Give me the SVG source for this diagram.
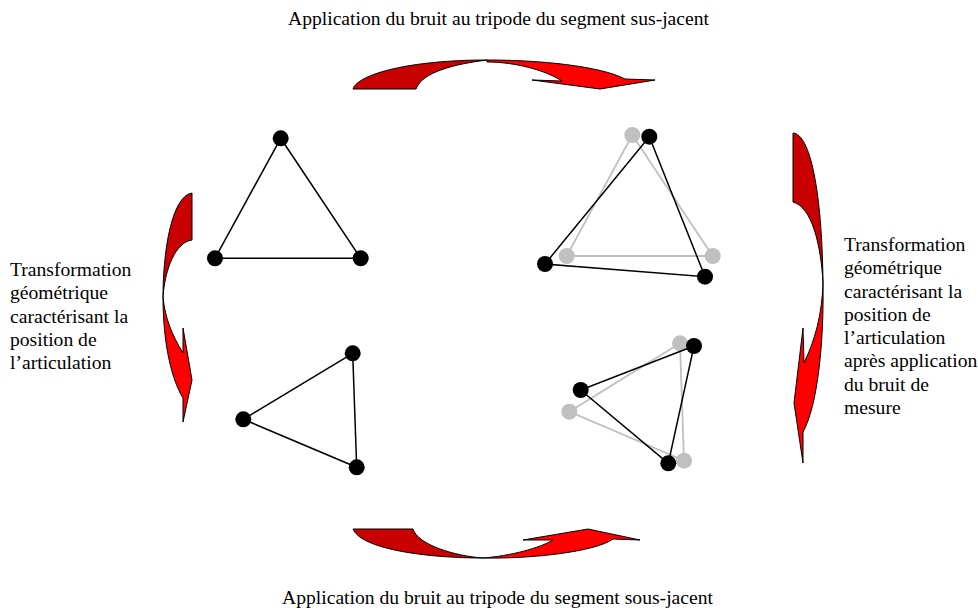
<svg xmlns="http://www.w3.org/2000/svg" width="978" height="613" viewBox="0 0 978 613">
<style>
.t{font-family:"Liberation Serif","Times New Roman",serif;font-size:18px;fill:#000}
.dk{fill:#C80000;stroke:#000;stroke-width:1;stroke-linejoin:miter}
.br{fill:#FF0000;stroke:#000;stroke-width:1;stroke-linejoin:miter}
.e{stroke:#000;stroke-width:1.5;fill:none}
.g{stroke:#C0C0C0;stroke-width:1.8;fill:none}
.n{fill:#000}
.ng{fill:#C0C0C0}
</style>
<rect width="978" height="613" fill="#fff"/>
<g id="connectors">
  <g id="arrow-top">
    <path class="dk" d="M353,89 C358,74 410,60 487,60 C455,64 422,72 416,89 Z"/>
    <path class="br" d="M487,60 C540,60 600,66 625,79 L655,80 L600,89 L532,80 L562,81 C545,70 515,62 487,62 Z"/>
  </g>
  <g id="arrow-right">
    <path class="dk" d="M793,133 C810,134 822,190 823,283 C821,245 812,207 793,202 Z"/>
    <path class="br" d="M823,283 C824,340 818,405 803,432 L803,463 L794,403 L803,328 L804,363 C815,340 822,315 823,283 Z"/>
  </g>
  <g id="arrow-bottom">
    <path class="dk" d="M353,529 L413,529 C418,545 455,556 483,558 C430,558 362,550 353,529 Z"/>
    <path class="br" d="M483,558 C530,559 595,552 613,539 L640,540 L588,529 L523,540 L553,540 C540,548 510,556 483,558 Z"/>
  </g>
  <g id="arrow-left">
    <path class="dk" d="M192,193 C172,196 163,250 163,297 C165,268 176,242 192,240 Z"/>
    <path class="br" d="M163,297 C163,345 172,380 183,398 L183,422 L192,380 L183,328 L183,353 C172,335 165,318 163,297 Z"/>
  </g>
</g>
<g id="tripod-top-left">
  <path class="e" d="M280.7,138.3 L215,258.3 L360.7,258.3 Z"/>
  <circle class="n" cx="280.7" cy="138.3" r="8"/>
  <circle class="n" cx="215" cy="258.3" r="8"/>
  <circle class="n" cx="360.7" cy="258.3" r="8"/>
</g>
<g id="tripod-top-right">
  <path class="g" d="M632.3,135 L566.7,256 L712.7,256 Z"/>
  <circle class="ng" cx="632.3" cy="135" r="8"/>
  <circle class="ng" cx="566.7" cy="256" r="8"/>
  <circle class="ng" cx="712.7" cy="256" r="8"/>
  <path class="e" d="M649.3,136.7 L545,264 L705,276.7 Z"/>
  <circle class="n" cx="649.3" cy="136.7" r="8"/>
  <circle class="n" cx="545" cy="264" r="8"/>
  <circle class="n" cx="705" cy="276.7" r="8"/>
</g>
<g id="tripod-bottom-left">
  <path class="e" d="M352.7,353.3 L243.3,419.3 L356.7,467.3 Z"/>
  <circle class="n" cx="352.7" cy="353.3" r="8"/>
  <circle class="n" cx="243.3" cy="419.3" r="8"/>
  <circle class="n" cx="356.7" cy="467.3" r="8"/>
</g>
<g id="tripod-bottom-right">
  <path class="g" d="M680,343.3 L569.3,411.7 L684,460.7 Z"/>
  <circle class="ng" cx="680" cy="343.3" r="8"/>
  <circle class="ng" cx="569.3" cy="411.7" r="8"/>
  <circle class="ng" cx="684" cy="460.7" r="8"/>
  <path class="e" d="M694,346 L580.7,390 L668.3,463.3 Z"/>
  <circle class="n" cx="694" cy="346" r="8"/>
  <circle class="n" cx="580.7" cy="390" r="8"/>
  <circle class="n" cx="668.3" cy="463.3" r="8"/>
</g>
<g id="label-top">
  <text class="t" x="288" y="25" textLength="421" lengthAdjust="spacingAndGlyphs">Application du bruit au tripode du segment sus-jacent</text>
</g>
<g id="label-bottom">
  <text class="t" x="282" y="604" textLength="431" lengthAdjust="spacingAndGlyphs">Application du bruit au tripode du segment sous-jacent</text>
</g>
<g id="label-left">
  <text class="t" transform="translate(10,0) scale(1.09,1)">
    <tspan x="0" y="276">Transformation</tspan>
    <tspan x="0" y="299.3">géométrique</tspan>
    <tspan x="0" y="322.6">caractérisant la</tspan>
    <tspan x="0" y="345.9">position de</tspan>
    <tspan x="0" y="369.2">l’articulation</tspan>
  </text>
</g>
<g id="label-right">
  <text class="t" transform="translate(844,0) scale(1.09,1)">
    <tspan x="0" y="251">Transformation</tspan>
    <tspan x="0" y="274.3">géométrique</tspan>
    <tspan x="0" y="297.6">caractérisant la</tspan>
    <tspan x="0" y="320.9">position de</tspan>
    <tspan x="0" y="344.2">l’articulation</tspan>
    <tspan x="0" y="367.5">après application</tspan>
    <tspan x="0" y="390.8">du bruit de</tspan>
    <tspan x="0" y="414.1">mesure</tspan>
  </text>
</g>
</svg>
